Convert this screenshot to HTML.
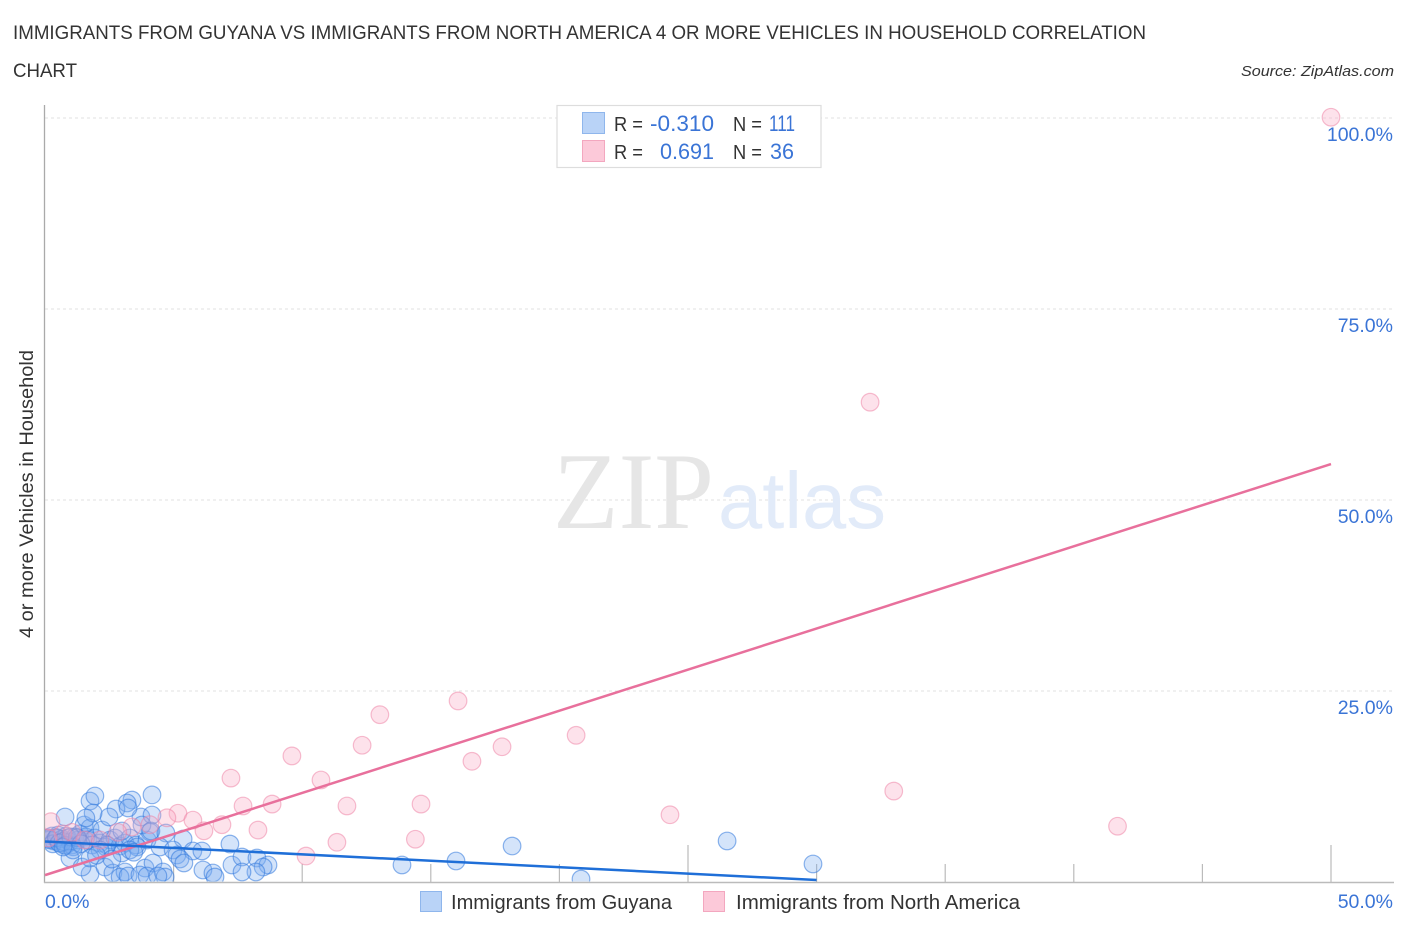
<!DOCTYPE html>
<html lang="en">
<head>
<meta charset="utf-8">
<title>Immigrants from Guyana vs Immigrants from North America</title>
<style>
html,body{margin:0;padding:0;background:#fff;}
svg{display:block;}
text{font-family:"Liberation Sans",sans-serif;}
</style>
</head>
<body>
<svg id="chart" xmlns="http://www.w3.org/2000/svg" width="1406" height="930" viewBox="0 0 1406 930">
  <defs>
    <clipPath id="plot-clip"><rect x="45" y="100" width="1349" height="781.5"/></clipPath>
  </defs>
  <rect x="0" y="0" width="1406" height="930" fill="#ffffff"/>
  <text x="13" y="39" font-size="19" fill="#333333" textLength="1133" lengthAdjust="spacingAndGlyphs">IMMIGRANTS FROM GUYANA VS IMMIGRANTS FROM NORTH AMERICA 4 OR MORE VEHICLES IN HOUSEHOLD CORRELATION</text>
  <text x="13" y="77" font-size="19" fill="#333333" textLength="64" lengthAdjust="spacingAndGlyphs">CHART</text>
  <text x="1394" y="76" font-size="15" font-style="italic" fill="#333333" text-anchor="end" textLength="153" lengthAdjust="spacingAndGlyphs">Source: ZipAtlas.com</text>

  <g id="grid"></g>

  <text x="553" y="528" font-size="109" fill="#e6e6e6" style="font-family:'Liberation Serif',serif" textLength="161" lengthAdjust="spacingAndGlyphs">ZIP</text>
  <text x="718" y="528" font-size="80" fill="#e2ebf9" textLength="168" lengthAdjust="spacingAndGlyphs">atlas</text>

  <g id="axes"></g>
  <g id="marks-guyana" clip-path="url(#plot-clip)"></g>
  <g id="marks-america" clip-path="url(#plot-clip)"></g>
  <g id="trends"></g>
  <g id="tick-labels"></g>

  <text transform="translate(33,494) rotate(-90)" font-size="19.5" fill="#333333" text-anchor="middle" textLength="288" lengthAdjust="spacingAndGlyphs">4 or more Vehicles in Household</text>

  <g>
    <rect x="557" y="105.5" width="264" height="62" fill="#ffffff" stroke="#dddddd" stroke-width="1.2"/>
    <rect x="582.5" y="112.5" width="22" height="21" fill="#b9d3f7" stroke="#8fb6ec" stroke-width="1"/>
    <rect x="582.5" y="140.5" width="22" height="21" fill="#fcc9d9" stroke="#f3a7bf" stroke-width="1"/>
    <text x="614" y="131" font-size="20" fill="#333333" textLength="29" lengthAdjust="spacingAndGlyphs">R =</text>
    <text x="714" y="131" font-size="22" fill="#3a74d6" text-anchor="end" textLength="64" lengthAdjust="spacingAndGlyphs">-0.310</text>
    <text x="733" y="131" font-size="20" fill="#333333" textLength="29" lengthAdjust="spacingAndGlyphs">N =</text>
    <text x="795" y="131" font-size="22" fill="#3a74d6" text-anchor="end" textLength="26" lengthAdjust="spacingAndGlyphs">111</text>
    <text x="614" y="159" font-size="20" fill="#333333" textLength="29" lengthAdjust="spacingAndGlyphs">R =</text>
    <text x="714" y="159" font-size="22" fill="#3a74d6" text-anchor="end" textLength="54" lengthAdjust="spacingAndGlyphs">0.691</text>
    <text x="733" y="159" font-size="20" fill="#333333" textLength="29" lengthAdjust="spacingAndGlyphs">N =</text>
    <text x="794" y="159" font-size="22" fill="#3a74d6" text-anchor="end" textLength="24" lengthAdjust="spacingAndGlyphs">36</text>
  </g>

  <g>
    <rect x="420.5" y="891.5" width="21" height="20" fill="#b9d3f7" stroke="#8fb6ec" stroke-width="1"/>
    <text x="451" y="909" font-size="20" fill="#333333" textLength="221" lengthAdjust="spacingAndGlyphs">Immigrants from Guyana</text>
    <rect x="703.5" y="891.5" width="21" height="20" fill="#fcc9d9" stroke="#f3a7bf" stroke-width="1"/>
    <text x="736" y="909" font-size="20" fill="#333333" textLength="284" lengthAdjust="spacingAndGlyphs">Immigrants from North America</text>
  </g>
</svg>
<script>
const guyanaX = [0.12,0.19,0.27,0.35,0.43,0.51,0.58,0.66,0.74,0.82,0.89,0.97,1.05,1.17,1.28,1.36,1.52,1.59,1.75,1.67,1.83,1.94,2.14,2.22,2.37,2.53,2.72,2.92,3.11,3.3,3.54,3.97,4.08,
  0.15,0.3,0.45,0.55,0.7,0.8,1.0,1.1,1.25,1.4,
  1.75,1.94,4.16,3.38,3.19,2.76,2.49,1.87,1.59,0.78,3.73,4.16,3.23,2.99,3.77,4.12,4.7,5.37,4.47,4.98,5.75,6.1,7.19,5.13,5.25,5.4,7.27,7.66,8.24,8.67,8.48,8.2,7.66,6.14,6.53,6.61,
  1.75,0.97,1.44,2.33,2.64,3.11,2.92,3.23,3.89,4.2,3.69,3.97,4.59,4.67,4.39,2.99,3.58,3.3,2.41,2.14,1.75,1.09,0.7,
  13.88,15.98,18.16,20.84,26.52,29.86,2.0,2.6,3.45];
const guyanaY = [5.76,5.5,6.02,5.37,5.76,6.15,5.1,5.63,4.84,6.0,5.76,5.24,4.84,5.9,5.5,6.3,7.46,5.9,7.07,5.5,4.84,5.76,5.1,6.81,4.58,5.5,5.76,4.71,5.1,5.76,4.84,5.5,6.54,
  5.6,5.0,5.8,5.1,5.3,4.8,5.9,4.6,5.8,5.0,
  10.6,11.26,11.4,10.73,10.34,9.55,8.51,9.03,8.38,8.51,8.51,8.77,9.69,6.68,7.46,6.68,6.41,5.63,4.58,4.19,4.06,4.06,4.97,3.53,3.01,2.49,2.23,3.27,3.14,2.23,1.96,1.31,1.31,1.57,1.18,0.65,
  1.05,3.14,1.96,1.96,1.18,1.31,0.65,0.79,1.83,2.49,0.92,0.79,1.31,0.65,0.79,3.8,4.58,4.19,4.84,4.19,3.14,4.19,4.58,
  2.23,2.75,4.71,0.39,5.37,2.36,3.5,3.0,3.9];
const americaX = [50.0,32.08,16.06,13.02,20.65,17.77,12.33,9.6,16.6,7.23,10.73,33.0,7.7,8.83,11.74,14.62,5.17,24.3,5.75,4.74,6.88,41.7,6.18,8.28,14.4,11.35,10.15,0.23,0.7,3.38,2.83,4.08,1.05,0.12,1.55,2.14];
const americaY = [100.1,62.8,23.7,21.9,19.2,17.7,17.9,16.5,15.8,13.6,13.35,11.9,9.95,10.2,9.95,10.2,9.0,8.8,8.1,8.4,7.5,7.3,6.7,6.8,5.6,5.2,3.4,7.9,6.3,7.2,6.5,7.5,6.5,5.76,5.5,5.5];
const guyanaTrendX = [0,30];
const guyanaTrendY = [5.3,0.26];
const americaTrendX = [0,50];
const americaTrendY = [0.9,54.7];
const xTickValues = [0,5,10,15,20,25,30,35,40,45,50];
const xMajorTicks = [25,50];
const yGridValues = [25,50,75,100];
const yTickLabels = ["25.0%","50.0%","75.0%","100.0%"];
const xEndLabels = ["0.0%","50.0%"];

const SVG_NS = "http://www.w3.org/2000/svg";
function xAxis(v){ return 45 + v * 25.72; }
function yAxis(v){ return 882 - v * 7.64; }
function make(tag, parentId, attrs){
  const el = document.createElementNS(SVG_NS, tag);
  for (const k in attrs) el.setAttribute(k, attrs[k]);
  document.getElementById(parentId).appendChild(el);
  return el;
}

yGridValues.forEach(function(v){
  const el = make("line","grid",{x1:45,x2:1393,y1:yAxis(v),y2:yAxis(v),stroke:"#e2e2e2","stroke-width":1,"stroke-dasharray":"3 3"});
  
  
});

const yAxisLine = make("line","axes",{x1:44.5,x2:44.5,y1:105,y2:883,stroke:"#aaaaaa","stroke-width":1.3});


const xAxisLine = make("line","axes",{x1:44,x2:1394,y1:882.5,y2:882.5,stroke:"#bbbbbb","stroke-width":1.6});


xTickValues.slice(1).forEach(function(v){
  const top = xMajorTicks.indexOf(v) >= 0 ? 845 : 864;
  const el = make("line","axes",{x1:xAxis(v),x2:xAxis(v),y1:top,y2:882,stroke:"#bbbbbb","stroke-width":1.2});
  
  
});

guyanaX.forEach(function(v,i){
  const el = make("circle","marks-guyana",{cx:xAxis(v),cy:yAxis(guyanaY[i]),r:8.8,fill:"rgba(120,170,240,0.32)",stroke:"rgba(50,120,220,0.55)","stroke-width":1.2});
  
  
});
americaX.forEach(function(v,i){
  const el = make("circle","marks-america",{cx:xAxis(v),cy:yAxis(americaY[i]),r:8.8,fill:"rgba(250,170,195,0.34)",stroke:"rgba(238,130,165,0.52)","stroke-width":1.2});
  
  
});

const americaTrend = make("line","trends",{x1:xAxis(americaTrendX[0]),y1:yAxis(americaTrendY[0]),x2:xAxis(americaTrendX[1]),y2:yAxis(americaTrendY[1]),stroke:"#e8709c","stroke-width":2.5});


const guyanaTrend = make("line","trends",{x1:xAxis(guyanaTrendX[0]),y1:yAxis(guyanaTrendY[0]),x2:xAxis(guyanaTrendX[1]),y2:yAxis(guyanaTrendY[1]),stroke:"#1f6fd8","stroke-width":2.5});



yGridValues.forEach(function(v,i){
  const el = make("text","tick-labels",{x:1393,y:yAxis(v)+23,"font-size":19.5,fill:"#3a74d6","text-anchor":"end"});
  el.textContent = yTickLabels[i];
  
  
});
const xLabelLeft = make("text","tick-labels",{x:45,y:908,"font-size":19.5,fill:"#3a74d6"});
xLabelLeft.textContent = xEndLabels[0];


const xLabelRight = make("text","tick-labels",{x:1393,y:908,"font-size":19.5,fill:"#3a74d6","text-anchor":"end"});
xLabelRight.textContent = xEndLabels[1];


</script>
</body>
</html>
